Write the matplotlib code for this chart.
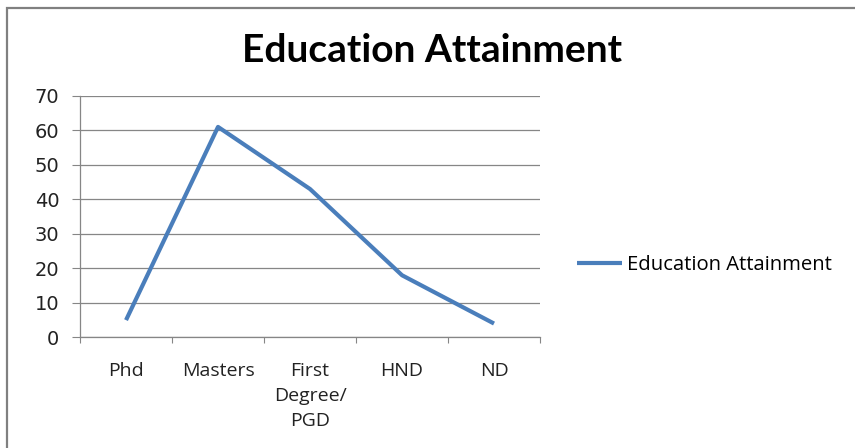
import matplotlib.pyplot as plt
from matplotlib.patches import Rectangle

# education level counts
niveis = ["Phd", "Masters", "First\nDegree/\nPGD", "HND", "ND"]
valores = [5, 61, 43, 18, 4]
serie = "Education Attainment"

cor_linha = "#4A7EBB"
cor_grade = "#868686"

fig = plt.figure(figsize=(8.55, 4.48), dpi=100)
ax = fig.add_axes([0.0936, 0.247, 0.538, 0.539])

x = list(range(len(niveis)))
ax.plot(x, valores, color=cor_linha, linewidth=3, label=serie,
        solid_capstyle="butt")

ax.set_xlim(-0.5, len(niveis) - 0.5)
ax.set_ylim(0, 70)
ax.set_yticks(range(0, 71, 10))
ax.yaxis.grid(True, color=cor_grade, linewidth=0.9)
ax.set_axisbelow(True)

# category labels centred in each slot, tick marks between slots
ax.set_xticks([i - 0.5 for i in range(len(niveis) + 1)])
ax.set_xticklabels([])
ax.set_xticks(x, minor=True)
ax.set_xticklabels(niveis, minor=True, fontfamily="Open Sans", fontsize=14,
                   color="#222222", linespacing=1.5)
ax.tick_params(axis="x", which="minor", length=0, pad=18)
ax.tick_params(axis="x", which="major", direction="out", length=4,
               color=cor_grade)
ax.tick_params(axis="y", direction="out", length=6, color=cor_grade,
               labelsize=14, labelcolor="#222222", pad=9)

for lado in ("top", "right"):
    ax.spines[lado].set_visible(False)
for lado in ("left", "bottom"):
    ax.spines[lado].set_color(cor_grade)
    ax.spines[lado].set_linewidth(0.9)

fig.text(0.505, 0.888, "Education Attainment", ha="center", va="center",
         fontsize=28, fontweight="bold", fontfamily="Lato")

fig.legend(loc="center left", bbox_to_anchor=(0.675, 0.4085), frameon=False,
           handlelength=2.2, handletextpad=0.25, borderpad=0,
           borderaxespad=0, prop={"family": "Open Sans", "size": 14.6})

# outer chart border
fig.patches.append(Rectangle((7 / 855, -0.1), 1.2, 0.1 + 1 - 8 / 448,
                             transform=fig.transFigure, fill=False,
                             edgecolor="#808080", linewidth=1.6))

fig.savefig("out.png", dpi=100)
